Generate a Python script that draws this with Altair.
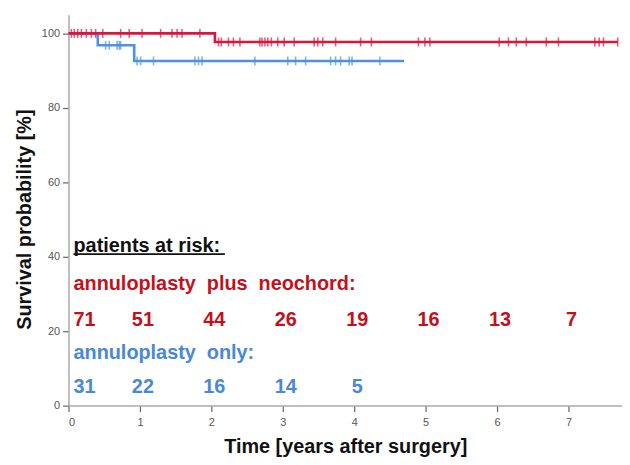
import altair as alt
import pandas as pd

# ---- data ----
red_time = [0, 2.05, 7.69]
red_surv = [100, 97.7, 97.7]
blue_time = [0, 0.41, 0.92, 4.70]
blue_surv = [100, 96.8, 92.6, 92.6]

red_censor = [0.04, 0.08, 0.13, 0.18, 0.25, 0.32, 0.38, 0.48, 0.73, 0.85, 1.03, 1.29,
              1.45, 1.52, 1.59, 1.84, 2.10, 2.14, 2.24, 2.31, 2.40, 2.68, 2.71, 2.75,
              2.79, 2.84, 2.93, 3.02, 3.16, 3.44, 3.49, 3.56, 3.74, 4.09, 4.24, 4.90,
              4.99, 5.06, 6.03, 6.16, 6.27, 6.41, 6.69, 6.86, 7.37, 7.43, 7.49, 7.69]
blue_censor = [0.52, 0.57, 0.68, 0.71, 0.73, 0.96, 1.01, 1.19, 1.77, 1.82, 1.87, 2.61,
               3.07, 3.18, 3.32, 3.67, 3.74, 3.81, 3.93, 3.97, 4.36]

risk_years = [0, 1, 2, 3, 4, 5, 6, 7]
red_risk = [71, 51, 44, 26, 19, 16, 13, 7]
blue_risk = [31, 22, 16, 14, 5]

RED_LINE = "#d9163f"
BLUE_LINE = "#4d92e0"
RED_TXT = "#c4101c"
BLUE_TXT = "#4a88d6"
FONT = "Liberation Sans"


def step_value(times, surv, t):
    v = surv[0]
    for tt, s in zip(times, surv):
        if tt <= t:
            v = s
    return v


curves = pd.concat([
    pd.DataFrame({"time": red_time, "surv": red_surv, "group": "neochord", "order": 1}),
    pd.DataFrame({"time": blue_time, "surv": blue_surv, "group": "only", "order": 0}),
])
censor = pd.concat([
    pd.DataFrame({"time": red_censor,
                  "surv": [step_value(red_time, red_surv, t) for t in red_censor],
                  "group": "neochord"}),
    pd.DataFrame({"time": blue_censor,
                  "surv": [step_value(blue_time, blue_surv, t) for t in blue_censor],
                  "group": "only"}),
])
risk_red = pd.DataFrame({"year": risk_years, "n": red_risk})
risk_blue = pd.DataFrame({"year": risk_years[:len(blue_risk)], "n": blue_risk})

xscale = alt.Scale(domain=[0, 7.75], nice=False, zero=False)
yscale = alt.Scale(domain=[0, 105], nice=False)
color = alt.Color("group:N", scale=alt.Scale(domain=["neochord", "only"],
                                             range=[RED_LINE, BLUE_LINE]), legend=None)

xaxis = alt.Axis(
    values=[i * 0.5 for i in range(16)],
    labelExpr="datum.value % 1 === 0 ? '' + datum.value : ''",
    title="Time [years after surgery]",
    titleFont=FONT, titleFontSize=20, titleFontWeight="bold", titleColor="#111",
    titlePadding=9,
    labelFont=FONT, labelFontSize=11, labelColor="#555", labelPadding=5,
    tickSize={"condition": {"test": "datum.value % 1 === 0", "value": 6}, "value": 3},
    tickColor="#666", tickWidth=1.2,
    domainColor="#aaa", domainWidth=1.5, grid=False,
)
yaxis = alt.Axis(
    values=list(range(0, 101, 10)),
    labelExpr="datum.value % 20 === 0 ? datum.label : ''",
    title="Survival probability [%]",
    titleFont=FONT, titleFontSize=20, titleFontWeight="bold", titleColor="#111",
    titlePadding=7, titleY=206,
    labelFont=FONT, labelFontSize=11, labelColor="#555", labelPadding=3,
    tickSize=6, tickColor="#666", tickWidth=1.2,
    domainColor="#aaa", domainWidth=1.5, grid=False,
)

lines = alt.Chart(curves).mark_line(interpolate="step-after", strokeWidth=2.6).encode(
    x=alt.X("time:Q", scale=xscale, axis=xaxis),
    y=alt.Y("surv:Q", scale=yscale, axis=yaxis),
    color=color,
    detail="group:N",
    order="order:Q",
)
blue_line = lines.transform_filter("datum.group === 'only'")
red_line = lines.transform_filter("datum.group === 'neochord'")

ticks = alt.Chart(censor).mark_tick(orient="vertical", size=9, thickness=1.6).encode(
    x=alt.X("time:Q", scale=xscale),
    y=alt.Y("surv:Q", scale=yscale),
    color=color,
)
blue_ticks = ticks.transform_filter("datum.group === 'only'")
red_ticks = ticks.transform_filter("datum.group === 'neochord'")


def label(text, x, y, col, **kw):
    return alt.Chart(pd.DataFrame({"t": [text]})).mark_text(
        align="left", baseline="alphabetic", font=FONT, fontSize=20,
        fontWeight="bold", color=col, **kw
    ).encode(x=alt.datum(x, scale=xscale), y=alt.datum(y, scale=yscale), text="t:N")


t_head = label("patients at risk:", 0.07, 41.4, "#111")
underline = alt.Chart(pd.DataFrame({"a": [0]})).mark_rule(color="#111", strokeWidth=1.6).encode(
    x=alt.datum(0.07, scale=xscale), x2=alt.datum(2.19), y=alt.datum(40.7, scale=yscale)
)
t_red = label("annuloplasty\u00a0 plus\u00a0 neochord:", 0.07, 31.1, RED_TXT)
t_blue = label("annuloplasty\u00a0 only:", 0.07, 12.4, BLUE_TXT)


def risk_row(df, y, col):
    base = alt.Chart(df)
    first = base.transform_filter("datum.year === 0").mark_text(
        align="left", baseline="alphabetic", font=FONT, fontSize=20,
        fontWeight="bold", color=col, dx=5
    ).encode(x=alt.X("year:Q", scale=xscale), y=alt.datum(y, scale=yscale), text="n:Q")
    rest = base.transform_filter("datum.year > 0").mark_text(
        align="center", baseline="alphabetic", font=FONT, fontSize=20,
        fontWeight="bold", color=col, dx=3
    ).encode(x=alt.X("year:Q", scale=xscale), y=alt.datum(y, scale=yscale), text="n:Q")
    return first + rest


chart = alt.layer(
    blue_line, blue_ticks, red_line, red_ticks,
    t_head, underline, t_red, risk_row(risk_red, 21.5, RED_TXT),
    t_blue, risk_row(risk_blue, 3.3, BLUE_TXT),
).properties(
    width=558, height=394,
    autosize=alt.AutoSizeParams(type="none"),
    padding={"left": 61, "top": 5, "right": 0, "bottom": 56},
    background="white",
).configure_view(stroke=None)

chart.save("out.html", embed_options={"renderer": "svg", "actions": False})
